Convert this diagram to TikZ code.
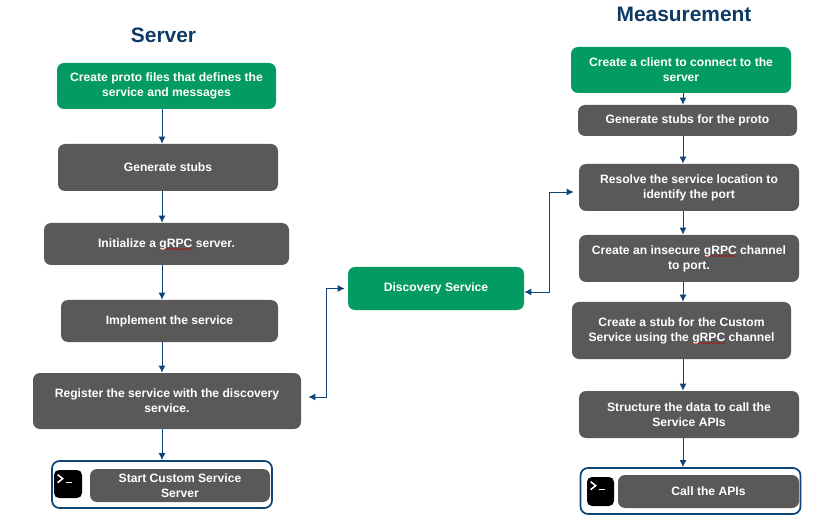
\documentclass[tikz,border=0pt]{standalone}
\usepackage{fontspec}
\setmainfont{Liberation Sans}
\usetikzlibrary{arrows.meta,calc,decorations.pathmorphing}
\definecolor{flowgreen}{HTML}{049B63}
\definecolor{flowgray}{HTML}{595959}
\definecolor{flowblue}{HTML}{0F4478}
\definecolor{flowtitle}{HTML}{0F3A63}
\newlength{\sqwidth}
\newcommand{\sqword}[1]{\settowidth{\sqwidth}{#1}\rlap{\smash{\raisebox{-1.1pt}{\tikz[overlay]\draw[sharp corners,red!75!black,line width=.3pt,decorate,decoration={snake,amplitude=.3pt,segment length=2pt}] (0pt,0pt) -- (\sqwidth,0pt);}}}#1}

\begin{document}
\begin{tikzpicture}[x=0.02cm,y=-0.02cm,
    stepbox/.style={rounded corners=1.4mm,inner sep=0pt,align=center,text=white,
      font=\fontsize{6.9pt}{8.6pt}\selectfont\bfseries},
    flow/.style={flowblue,line width=.55pt,-{Latex[length=1.4mm,width=1.4mm]}},
    flowboth/.style={flowblue,line width=.55pt,{Latex[length=1.4mm,width=1.4mm]}-{Latex[length=1.4mm,width=1.4mm]}},
    frame/.style={draw=flowblue,line width=1pt,rounded corners=1.5mm,inner sep=0pt},
    termicon/.style={fill=black,rounded corners=1mm,inner sep=0pt},
    title/.style={text=flowtitle,font=\fontsize{11.9pt}{14pt}\selectfont\bfseries}]
  \useasboundingbox (0,0) rectangle (825,530);
  \node[title] (srvtitle) at (163.5,35) {Server};
  \node[title] (meastitle) at (684,14) {Measurement};
  % green boxes
  \foreach \n/\x/\y/\w/\h/\t in {
      s1/166.5/86/219/46/{Create proto files that defines the\\service and messages},
      m1/681/70/220/46/{Create a client to connect to the\\server},
      disc/436/288.5/176/43/{Discovery Service}}
    \node[stepbox,fill=flowgreen,minimum width=\w*0.02cm,minimum height=\h*0.02cm] (\n) at (\x,\y) {\t};
  % gray boxes
  \foreach \n/\x/\y/\w/\h/\t in {
      s2/168/167.5/220/47/{Generate stubs},
      s3/166.5/244/245/42/{Initialize a \sqword{gRPC} server.},
      s4/169.5/321/217/42/{Implement the service},
      s5/167/401/268/56/{Register the service with the discovery\\service.},
      s6/180/485.5/180/33/{Start Custom Service\\Server},
      m2/687.5/120.5/219/31/{Generate stubs for the proto},
      m3/689/187.5/220/47/{Resolve the service location to\\identify the port},
      m4/689/258.5/220/47/{Create an insecure \sqword{gRPC} channel\\to port.},
      m5/681.5/330.5/219/57/{Create a stub for the Custom\\Service using the \sqword{gRPC} channel},
      m6/689/414.5/220/47/{Structure the data to call the\\Service APIs},
      m7/708.5/491.5/181/33/{Call the APIs}}
    \node[stepbox,fill=flowgray,minimum width=\w*0.02cm,minimum height=\h*0.02cm] (\n) at (\x,\y) {\t};
  % terminal frames
  \node[frame,minimum width=220*0.02cm,minimum height=47*0.02cm] (srvframe) at (162,484.5) {};
  \node[frame,minimum width=220*0.02cm,minimum height=46*0.02cm] (measframe) at (690.5,491) {};
  \node[termicon,minimum width=28*0.02cm,minimum height=28*0.02cm] (srvicon) at (68,484) {};
  \node[termicon,minimum width=27*0.02cm,minimum height=29*0.02cm] (measicon) at (600.5,491.5) {};
  \foreach \i in {srvicon,measicon} {
    \draw[white,line width=.9pt] ([shift={(4,5)}]\i.north west) -- ([shift={(9,9)}]\i.north west) -- ([shift={(4,13)}]\i.north west);
    \draw[white,line width=.9pt] ([shift={(12,13)}]\i.north west) -- ([shift={(18,13)}]\i.north west);
  }
  \coordinate (srvflow) at (162,0);
  \coordinate (measflow) at (683,0);
  \foreach \a/\b in {s1/s2,s2/s3,s3/s4,s4/s5,s5/srvframe}
    \draw[flow] (\a.south -| srvflow) -- (\b.north -| srvflow);
  \foreach \a/\b in {m1/m2,m2/m3,m3/m4,m4/m5,m5/m6,m6/measframe}
    \draw[flow] (\a.south -| measflow) -- (\b.north -| measflow);
  \draw[flowboth,shorten >=7pt*0.5679,shorten <=3pt*0.5679] (disc.west) -- ++(-21,0) |- ($(s5.east)+(0,-4)$);
  \draw[flowboth,shorten >=5pt*0.5679] (disc.east) ++(0,3.5) -- ++(25,0) |- ($(m3.west)+(0,4.5)$);
\end{tikzpicture}
\end{document}
